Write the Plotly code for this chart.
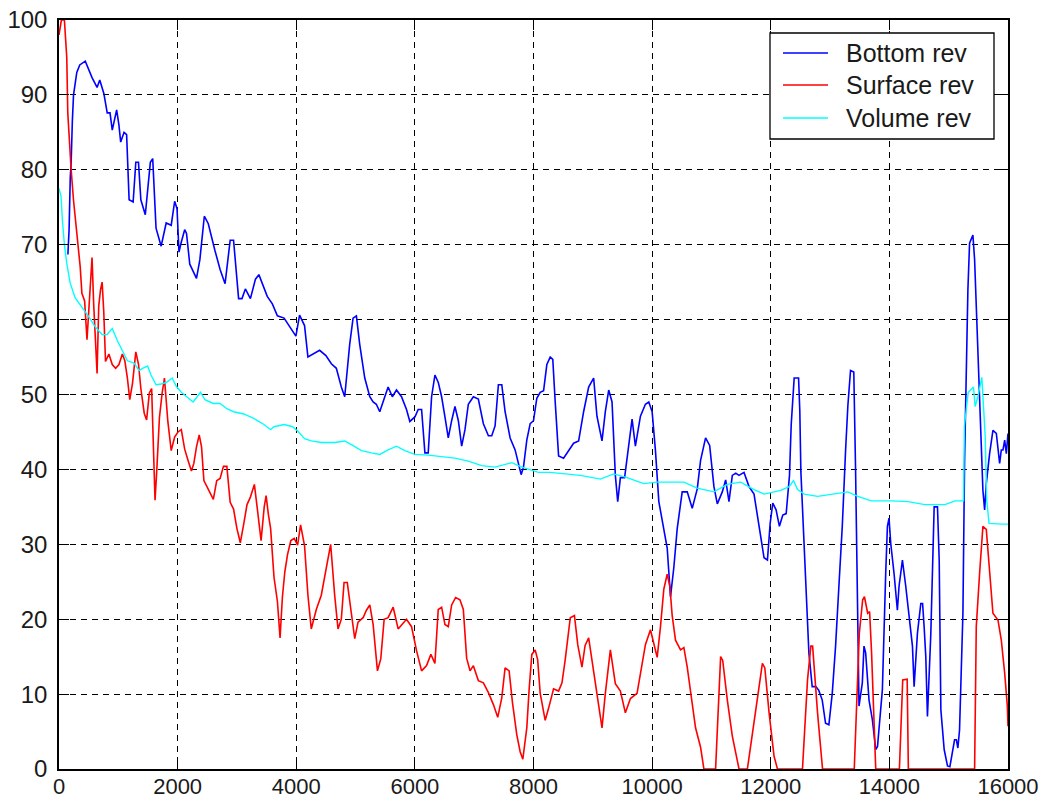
import plotly.graph_objects as go

# ---------------- data ----------------
bottom_x = [150, 170, 190, 205, 225, 245, 300, 350, 443, 557, 642, 687, 756, 813, 860, 898, 972, 1010, 1040, 1097,
            1140, 1182, 1250, 1295, 1340, 1380, 1455, 1500, 1540, 1580, 1636, 1722, 1807, 1892, 1950, 1990, 2023, 2060,
            2119, 2150, 2205, 2318, 2375, 2450, 2517, 2630, 2716, 2800, 2886, 2943, 3028, 3085, 3142, 3227, 3312, 3370,
            3440, 3511, 3597, 3682, 3795, 3909, 3994, 4056, 4140, 4197, 4300, 4394, 4500, 4592, 4676, 4760, 4817, 4901,
            4958, 5014, 5070, 5155, 5240, 5296, 5350, 5408, 5493, 5549, 5620, 5690, 5775, 5859, 5915, 6000, 6056, 6113,
            6169, 6225, 6282, 6338, 6395, 6451, 6507, 6563, 6620, 6676, 6733, 6789, 6845, 6901, 6986, 7070, 7155, 7240,
            7296, 7352, 7408, 7465, 7521, 7606, 7690, 7747, 7792, 7831, 7887, 7944, 8000, 8056, 8113, 8170, 8225, 8282,
            8325, 8366, 8423, 8507, 8592, 8676, 8761, 8845, 8930, 9014, 9070, 9155, 9211, 9268, 9324, 9380, 9420, 9465,
            9536, 9606, 9662, 9718, 9803, 9887, 9944, 10000, 10056, 10113, 10197, 10254, 10310, 10366, 10423, 10507,
            10592, 10676, 10761, 10817, 10901, 10970, 11042, 11099, 11183, 11240, 11296, 11352, 11410, 11465, 11549,
            11634, 11718, 11803, 11887, 11944, 11990, 12034, 12090, 12146, 12203, 12260, 12316, 12345, 12372, 12395,
            12469, 12490, 12508, 12565, 12600, 12643, 12699, 12760, 12810, 12868, 12924, 12980, 13037, 13093, 13149,
            13206, 13262, 13300, 13345, 13400, 13430, 13460, 13488, 13544, 13572, 13600, 13657, 13713, 13770, 13800,
            13882, 13938, 13967, 13994, 14023, 14079, 14135, 14163, 14220, 14276, 14332, 14389, 14417, 14473, 14530,
            14560, 14586, 14614, 14642, 14699, 14755, 14811, 14840, 14868, 14924, 14980, 15020, 15099, 15130, 15155,
            15183, 15240, 15268, 15296, 15324, 15352, 15408, 15437, 15465, 15493, 15521, 15549, 15577, 15606, 15634,
            15690, 15746, 15803, 15859, 15887, 15915, 15944, 15972, 16000]
bottom_y = [68.7, 72, 79, 81, 86.5, 90, 93, 94, 94.5, 92.3, 91, 92, 90.2, 87.6, 87.6, 85.3, 88, 86, 83.7, 85,
            84.7, 76, 75.7, 81, 81, 76, 74, 78, 81, 81.5, 72.2, 69.8, 72.9, 72.6, 75.8, 74.8, 69, 70.3,
            72, 71.5, 67.4, 65.5, 68, 73.8, 72.8, 69.2, 66.7, 64.8, 70.6, 70.6, 62.8, 62.8, 64.1, 62.8, 65.4, 66,
            64.5, 63.1, 62.1, 60.5, 60.2, 58.8, 57.8, 60.6, 59.2, 55, 55.5, 55.9, 55.2, 54.1, 53.5, 51, 49.7, 56.7,
            60.2, 60.5, 56.7, 52.2, 49.7, 49, 48.7, 47.7, 49.7, 51, 49.7, 50.6, 49.7, 48, 46.4, 47, 48, 48,
            42.2, 42.2, 49.7, 52.6, 51.6, 49.7, 47, 44.2, 46.5, 48.4, 46.5, 43.1, 45.3, 48.7, 49.7, 49.4, 46.1, 44.5,
            44.5, 45.8, 51.3, 51.3, 47.7, 44.2, 42.6, 40.6, 39.3, 40.3, 43.9, 46.1, 46.5, 49.5, 50.3, 50.5, 54, 55,
            54.7, 49, 41.8, 41.5, 42.5, 43.5, 43.8, 47.7, 51, 52.2, 47.1, 43.8, 47.7, 50.6, 49, 39.2, 35.7, 38.9,
            38.9, 43.1, 46.7, 43.1, 47.1, 48.7, 49, 47.7, 42.5, 35.7, 32.1, 29.5, 23, 26.9, 32.1, 37,
            37, 34.8, 37.4, 41.2, 44.2, 43.2, 37.7, 35.4, 37, 38.6, 35.7, 39.2, 39.5, 39.2, 39.6,
            37.7, 36.7, 32.1, 28.2, 27.9, 32.8, 35.5, 34.6, 32.4, 33.9, 34.1, 39.2, 46, 50, 52.2,
            52.2, 47.8, 39.7, 30, 24, 15.5, 11, 11, 10.5, 9.2, 6.1, 5.9, 10.1, 16.4, 24.4,
            32.4, 42.6, 48.5, 53.2, 53, 40, 20, 8.4, 11.5, 16.4, 15.5, 9.2, 6.6, 2.6, 3,
            10.6, 26.1, 32.4, 33.5, 30.1, 26.1, 21.2, 24.4, 27.9, 24.4, 20.8, 16.4, 11, 18.1, 22.1,
            22.1, 19, 15, 7, 18.1, 35, 35, 27.9, 7.9, 2.6, 0.4, 0.3, 3.9, 3.9, 2.8,
            5.2, 20.8, 41.2, 52.7, 64, 70.2, 71.3, 68, 61.3, 54.8, 50, 43.5, 37.2, 34.6, 38.1,
            42.1, 45.2, 44.8, 40.8, 42.6, 42.6, 43.9, 42.1, 44.8]

surface_x = [0, 17, 40, 91, 131, 148, 170, 205, 244, 284, 318, 358, 386, 432, 472, 500, 528, 557, 585, 614, 642, 670,
             700, 727, 755, 784, 841, 898, 955, 1011, 1068, 1110, 1153, 1193, 1239, 1295, 1341, 1380, 1437, 1477, 1523,
             1562, 1591, 1619, 1648, 1693, 1739, 1778, 1835, 1892, 1949, 2006, 2062, 2119, 2176, 2233, 2273, 2318, 2364,
             2403, 2443, 2517, 2602, 2659, 2716, 2773, 2830, 2886, 2943, 3000, 3057, 3114, 3170, 3227, 3294, 3340, 3407,
             3460, 3492, 3530, 3568, 3625, 3682, 3727, 3767, 3807, 3852, 3909, 3966, 4023, 4073, 4140, 4197, 4253, 4338,
             4422, 4507, 4580, 4648, 4704, 4760, 4806, 4860, 4918, 4986, 5042, 5127, 5183, 5240, 5296, 5369, 5425, 5482,
             5549, 5634, 5718, 5790, 5859, 5944, 6028, 6113, 6197, 6270, 6338, 6394, 6451, 6507, 6563, 6620, 6687, 6760,
             6817, 6873, 6930, 6986, 7070, 7155, 7240, 7324, 7397, 7465, 7521, 7589, 7645, 7718, 7775, 7820, 7887, 7927,
             7972, 8028, 8070, 8113, 8197, 8254, 8338, 8423, 8480, 8535, 8620, 8690, 8746, 8817, 8870, 8930, 8986, 9070,
             9155, 9211, 9296, 9380, 9465, 9549, 9634, 9746, 9803, 9887, 9972, 10028, 10085, 10141, 10197, 10254, 10299,
             10338, 10394, 10479, 10535, 10592, 10648, 10732, 10817, 10873, 11070, 11110, 11155, 11190, 11268, 11352,
             11465, 11606, 11690, 11775, 11859, 11900, 11972, 12056, 12113, 12535, 12620, 12676, 12706, 12789, 12873,
             13408, 13450, 13493, 13550, 13580, 13634, 13667, 13700, 13740, 13770, 14169, 14225, 14300, 14320, 15437,
             15465, 15521, 15577, 15634, 15690, 15746, 15831, 15887, 15944, 15989, 16000]
surface_y = [98, 98.8, 100, 100, 95, 87.6, 84, 80, 76, 73, 69.7, 67, 63.5, 62.5, 57.3, 60.5, 64.5, 68.3, 62, 56.7, 52.8, 61.8,
             64, 65, 61, 54.4, 55.4, 54, 53.5, 54, 55.4, 54.5, 52.2, 49.3, 51.5, 55.7, 54, 50.8, 47.5, 46.6, 50.2,
             50.8, 44.3, 35.9, 39.8, 46.9, 50.2, 52.2, 46.4, 42.5, 44.3, 45, 45.3, 42.7, 41.2, 39.8, 40.8, 43, 44.6,
             43, 38.5, 37.3, 36, 38.5, 38.8, 40.4, 40.4, 35.6, 34.7, 32.1, 30.2, 32.7, 35.3, 36.3, 38, 35, 30.5,
             35, 36.5, 34, 32.1, 25.6, 22.4, 17.5, 23, 26.3, 28.6, 30.5, 30.8, 29.9, 32.6, 29.8, 23.2, 18.7, 21.3,
             23.2, 27, 30, 23.2, 18.7, 20, 24.9, 24.9, 21.3, 17.4, 19.6, 20.2, 21.2, 21.9, 19.3, 13.1, 14.7, 20,
             20.2, 21.6, 18.7, 19.3, 20, 19, 15.8, 13.1, 13.8, 15.3, 14.1, 21.3, 21.6, 19.3, 19, 21.9, 22.9, 22.6,
             21.3, 14.8, 13.1, 13.8, 11.8, 11.5, 10.2, 8.6, 6.9, 9.5, 13.5, 13.1, 8.9, 4.6, 2.3, 1.3, 5.5, 10.7,
             15.3, 15.9, 14.6, 10.1, 6.5, 8.1, 10.7, 10.4, 11.5, 14.6, 20.2, 20.5, 16.6, 13.6, 16.5, 17.5, 14.6, 10.1,
             5.5, 10.1, 15.9, 11.4, 10.4, 7.5, 9.4, 10.1, 12.7, 16.6, 18.6, 16.6, 14.9, 19, 24, 26, 24.4,
             20.5, 17.2, 15.9, 16.2, 13.6, 10.1, 5.5, 2.9, 0, 0, 8, 15, 14.5, 9.2, 4.4,
             0, 0, 4.5, 9.2, 14.1, 13.5, 7.5, 1.7, 0, 0, 11.9, 16.4, 16.4, 7.5, 0,
             0, 8, 18.1, 22.6, 23, 20.8, 21, 15.5, 7.5, 0, 0, 11.9, 12, 0, 0,
             19, 26.1, 32.4, 32, 25.7, 20.8, 19.9, 17.2, 12.8, 8.4, 5.7]

volume_x = [0, 34, 57, 91, 131, 188, 273, 386, 500, 614, 727, 810, 898, 983, 1068, 1153, 1267, 1350, 1409, 1494, 1551,
            1636, 1722, 1807, 1909, 1977, 2062, 2176, 2261, 2320, 2386, 2460, 2602, 2716, 2830, 2943, 3114, 3284, 3455,
            3568, 3625, 3795, 3938, 4028, 4140, 4253, 4422, 4650, 4817, 4930, 5099, 5268, 5408, 5549, 5690, 5831, 6000,
            6225, 6451, 6676, 6901, 7127, 7352, 7521, 7634, 7803, 7972, 8085, 8282, 8789, 9127, 9352, 9577, 9859,
            10085, 10535, 10761, 11042, 11268, 11493, 11718, 11887, 12056, 12169, 12310, 12384, 12452, 12565, 12791,
            13073, 13299, 13469, 13695, 14034, 14316, 14599, 14938, 15107, 15250, 15265, 15330, 15418, 15446, 15492,
            15559, 15590, 15616, 15640, 15680, 15898, 16000]
volume_y = [77.5, 76.5, 73.3, 70, 67.5, 64.9, 62.9, 61.7, 60.4, 59, 58, 58, 58.8, 57.2, 55.8, 54.5, 54.2, 53.2, 53.5, 53.8, 52.6,
            51.3, 51.4, 51.6, 52.2, 51.1, 50.3, 49.6, 49, 49.6, 50.3, 49.3, 48.8, 48.8, 48.1, 47.7, 47.4, 46.8, 46,
            45.3, 45.7, 46, 45.7, 45.1, 44.1, 43.8, 43.6, 43.6, 43.8, 43.3, 42.5, 42.2, 42, 42.6, 43.1, 42.5, 42,
            41.9, 41.7, 41.5, 41.1, 40.5, 40.3, 40.6, 40.9, 40.3, 39.9, 39.6, 39.6, 39.2, 38.7, 39.4, 38.9, 38.1,
            38.3, 38.3, 37.5, 37, 38, 38.3, 37.3, 36.7, 37, 37.2, 37.7, 38.5, 37.3, 36.7, 36.4,
            36.7, 37, 36.4, 35.8, 35.8, 35.7, 35.3, 35.3, 35.8, 35.8, 45.8, 50.3, 51, 48.4, 49.7,
            52.3, 48, 44.4, 36, 32.8, 32.7, 32.7]

series_names = ["Bottom rev", "Surface rev", "Volume rev"]
series_colors = ["#0000FF", "#FF0000", "#00FFFF"]
series_widths = [1.6, 1.6, 1.4]

x_ticks = [0, 2000, 4000, 6000, 8000, 10000, 12000, 14000, 16000]
y_ticks = [0, 10, 20, 30, 40, 50, 60, 70, 80, 90, 100]

FONT = "Liberation Sans, Arial, sans-serif"
W, H = 1043, 803
ML, MR, MT, MB = 59, 35, 20, 34
PW, PH = W - ML - MR, H - MT - MB


def px_to_paper(xp, yp):
    return (xp - ML) / PW, (H - MB - yp) / PH


fig = go.Figure()
for xs, ys, nm, col, lw in zip([bottom_x, surface_x, volume_x], [bottom_y, surface_y, volume_y],
                               series_names, series_colors, series_widths):
    fig.add_trace(go.Scatter(x=xs, y=ys, mode="lines", name=nm, showlegend=False,
                             line=dict(color=col, width=lw)))

axis_common = dict(
    showline=True, linecolor="#000000", linewidth=1.5, mirror="ticks",
    ticks="inside", ticklen=10, tickcolor="#000000", tickwidth=1.2,
    showgrid=True, gridcolor="#000000", gridwidth=1.3, griddash="6px,5px",
    zeroline=False, automargin=False,
)

# legend box (MATLAB style) drawn in paper coordinates
shapes = []
annotations = []
bx0, by0 = px_to_paper(770, 139)
bx1, by1 = px_to_paper(994, 33)
shapes.append(dict(type="rect", xref="paper", yref="paper", x0=bx0, y0=by0, x1=bx1, y1=by1,
                   line=dict(color="#000000", width=1.3), fillcolor="white", layer="above"))
row_y = [53, 85, 118]
for nm, col, lw, ry in zip(series_names, series_colors, series_widths, row_y):
    lx0, ly = px_to_paper(783, ry)
    lx1, _ = px_to_paper(828, ry)
    shapes.append(dict(type="line", xref="paper", yref="paper", x0=lx0, y0=ly, x1=lx1, y1=ly,
                       line=dict(color=col, width=lw), layer="above"))
    tx, ty = px_to_paper(844, ry)
    annotations.append(dict(xref="paper", yref="paper", x=tx, y=ty, xanchor="left", yanchor="middle",
                            text=nm, showarrow=False,
                            font=dict(family=FONT, size=25, color="#1a1a1a")))

fig.update_layout(
    width=W, height=H,
    margin=dict(l=ML, r=MR, t=MT, b=MB, pad=0),
    paper_bgcolor="white", plot_bgcolor="white",
    showlegend=False,
    shapes=shapes, annotations=annotations,
    xaxis=dict(range=[0, 16000], tickmode="array", tickvals=x_ticks,
               ticktext=[str(v) for v in x_ticks], ticklabelstandoff=-3,
               tickfont=dict(family=FONT, size=22, color="#1a1a1a"), **axis_common),
    yaxis=dict(range=[0, 100], tickmode="array", tickvals=y_ticks,
               ticktext=[str(v) for v in y_ticks], ticklabelstandoff=5,
               tickfont=dict(family=FONT, size=24, color="#1a1a1a"), **axis_common),
)

fig.write_html("out.html")
